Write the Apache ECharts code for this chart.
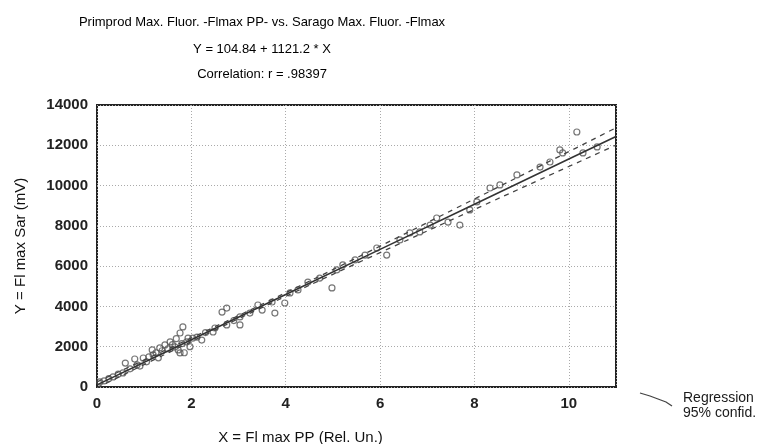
<!DOCTYPE html>
<html>
<head>
<meta charset="utf-8">
<script src="https://cdn.jsdelivr.net/npm/echarts@6/dist/echarts.min.js"></script>
<style>html,body{margin:0;padding:0;background:#fff}#c{width:779px;height:444px}</style>
</head>
<body>
<div id="c"></div>
<script>
// Observed points (X = Fl max PP, Y = Fl max Sar)
var pointX = [0.06,0.15,0.25,0.34,0.45,0.55,0.6,0.7,0.8,0.85,0.91,0.98,1.05,1.1,1.17,1.19,1.25,1.3,1.33,1.38,1.44,1.5,1.55,1.6,1.65,1.68,1.72,1.76,1.76,1.8,1.82,1.85,1.9,1.93,1.97,2.03,2.12,2.22,2.3,2.46,2.5,2.65,2.75,2.75,2.9,3.03,3.03,3.24,3.41,3.5,3.71,3.77,3.98,4.09,4.26,4.47,4.72,4.98,5.08,5.21,5.47,5.68,5.93,6.14,6.42,6.63,6.84,7.06,7.2,7.44,7.69,7.9,8.05,8.33,8.54,8.9,9.39,9.6,9.81,9.87,10.17,10.3,10.6];
var pointY = [250,300,420,500,640,700,1190,900,1390,1100,1040,1440,1250,1500,1840,1590,1700,1450,1940,1800,2090,1900,2240,2100,1990,2400,1840,1690,2680,2150,2980,1700,2240,2430,2000,2430,2480,2330,2700,2730,2930,3720,3920,3080,3300,3480,3080,3670,4070,3820,4220,3670,4170,4670,4820,5210,5410,4920,5810,6060,6310,6550,6900,6550,7300,7650,7700,8040,8390,8190,8040,8790,9190,9880,10030,10530,10920,11170,11770,11620,12660,11620,11920];

// Regression line and 95% confidence band, read at these X positions
var fitX   = [0, 2, 4, 6, 8, 10, 11];
var fitY   = [105, 2347, 4590, 6832, 9075, 11317, 12438];
var upperY = [255, 2437, 4680, 6992, 9335, 11687, 12868];
var lowerY = [-45, 2257, 4500, 6672, 8815, 10947, 12008];

var titleLines = [
  'Primprod Max. Fluor. -Flmax PP- vs. Sarago Max. Fluor. -Flmax',
  'Y = 104.84 + 1121.2 * X',
  'Correlation: r = .98397'
];
var xName = 'X = Fl max PP (Rel. Un.)';
var yName = 'Y = Fl max Sar (mV)';
var legendLabels = ['Regression', '95% confid.'];

function zip(a, b) { return a.map(function (v, i) { return [v, b[i]]; }); }

var FONT = 'Liberation Sans';
var chart = echarts.init(document.getElementById('c'), null, {renderer: 'canvas'});
chart.setOption({
  animation: false,
  backgroundColor: '#fff',
  title: titleLines.map(function (t, i) {
    return {text: t, left: 257, top: [11, 38, 63][i], textAlign: 'center',
      textStyle: {fontFamily: FONT, fontSize: 13, fontWeight: 'normal', color: '#000'}};
  }),
  grid: {left: 97, top: 105, width: 519, height: 282, containLabel: false, outerBoundsMode: 'none',
    show: true, borderColor: '#222', borderWidth: 2, backgroundColor: '#fff'},
  xAxis: {
    type: 'value', min: 0, max: 11, interval: 2,
    name: xName, nameLocation: 'middle', nameGap: 43,
    nameTextStyle: {fontFamily: FONT, fontSize: 15, color: '#111', padding: [0, 112, 0, 0]},
    axisLine: {show: false}, axisTick: {show: false},
    axisLabel: {showMaxLabel: false, margin: 9, fontFamily: FONT, fontSize: 15, fontWeight: 'bold', color: '#222'},
    splitLine: {show: true, lineStyle: {color: '#aaa', type: [1, 2], width: 1}}
  },
  yAxis: {
    type: 'value', min: 0, max: 14000, interval: 2000,
    name: yName, nameLocation: 'middle', nameGap: 69, nameRotate: 90,
    nameTextStyle: {fontFamily: FONT, fontSize: 15, color: '#111'},
    axisLine: {show: false}, axisTick: {show: false},
    axisLabel: {margin: 9, fontFamily: FONT, fontSize: 15, fontWeight: 'bold', color: '#222',
      formatter: function (v) { return String(v); }},
    splitLine: {show: true, lineStyle: {color: '#aaa', type: [1, 2], width: 1}}
  },
  series: [
    {type: 'scatter', data: zip(pointX, pointY), symbol: 'circle', symbolSize: 6,
     itemStyle: {color: 'rgba(255,255,255,0)', borderColor: '#555', borderWidth: 1.2}, z: 3},
    {type: 'line', data: zip(fitX, fitY), smooth: false, showSymbol: false, clip: true,
     lineStyle: {color: '#333', width: 1.6, type: 'solid'}, z: 4},
    {type: 'line', data: zip(fitX, upperY), smooth: true, showSymbol: false, clip: true,
     lineStyle: {color: '#444', width: 1.3, type: [5, 5]}, z: 4},
    {type: 'line', data: zip(fitX, lowerY), smooth: true, showSymbol: false, clip: true,
     lineStyle: {color: '#444', width: 1.3, type: [5, 5]}, z: 4}
  ],
  graphic: [
    {type: 'polyline', shape: {points: [[640, 393], [650, 396], [658, 399], [666, 402], [672, 406]]},
     style: {stroke: '#444', lineWidth: 1.3, fill: null}},
    {type: 'text', left: 683, top: 391, style: {text: legendLabels[0], font: '14px "Liberation Sans"', fill: '#1a1a1a'}},
    {type: 'text', left: 683, top: 406, style: {text: legendLabels[1], font: '14px "Liberation Sans"', fill: '#1a1a1a'}}
  ]
});
</script>
</body>
</html>
